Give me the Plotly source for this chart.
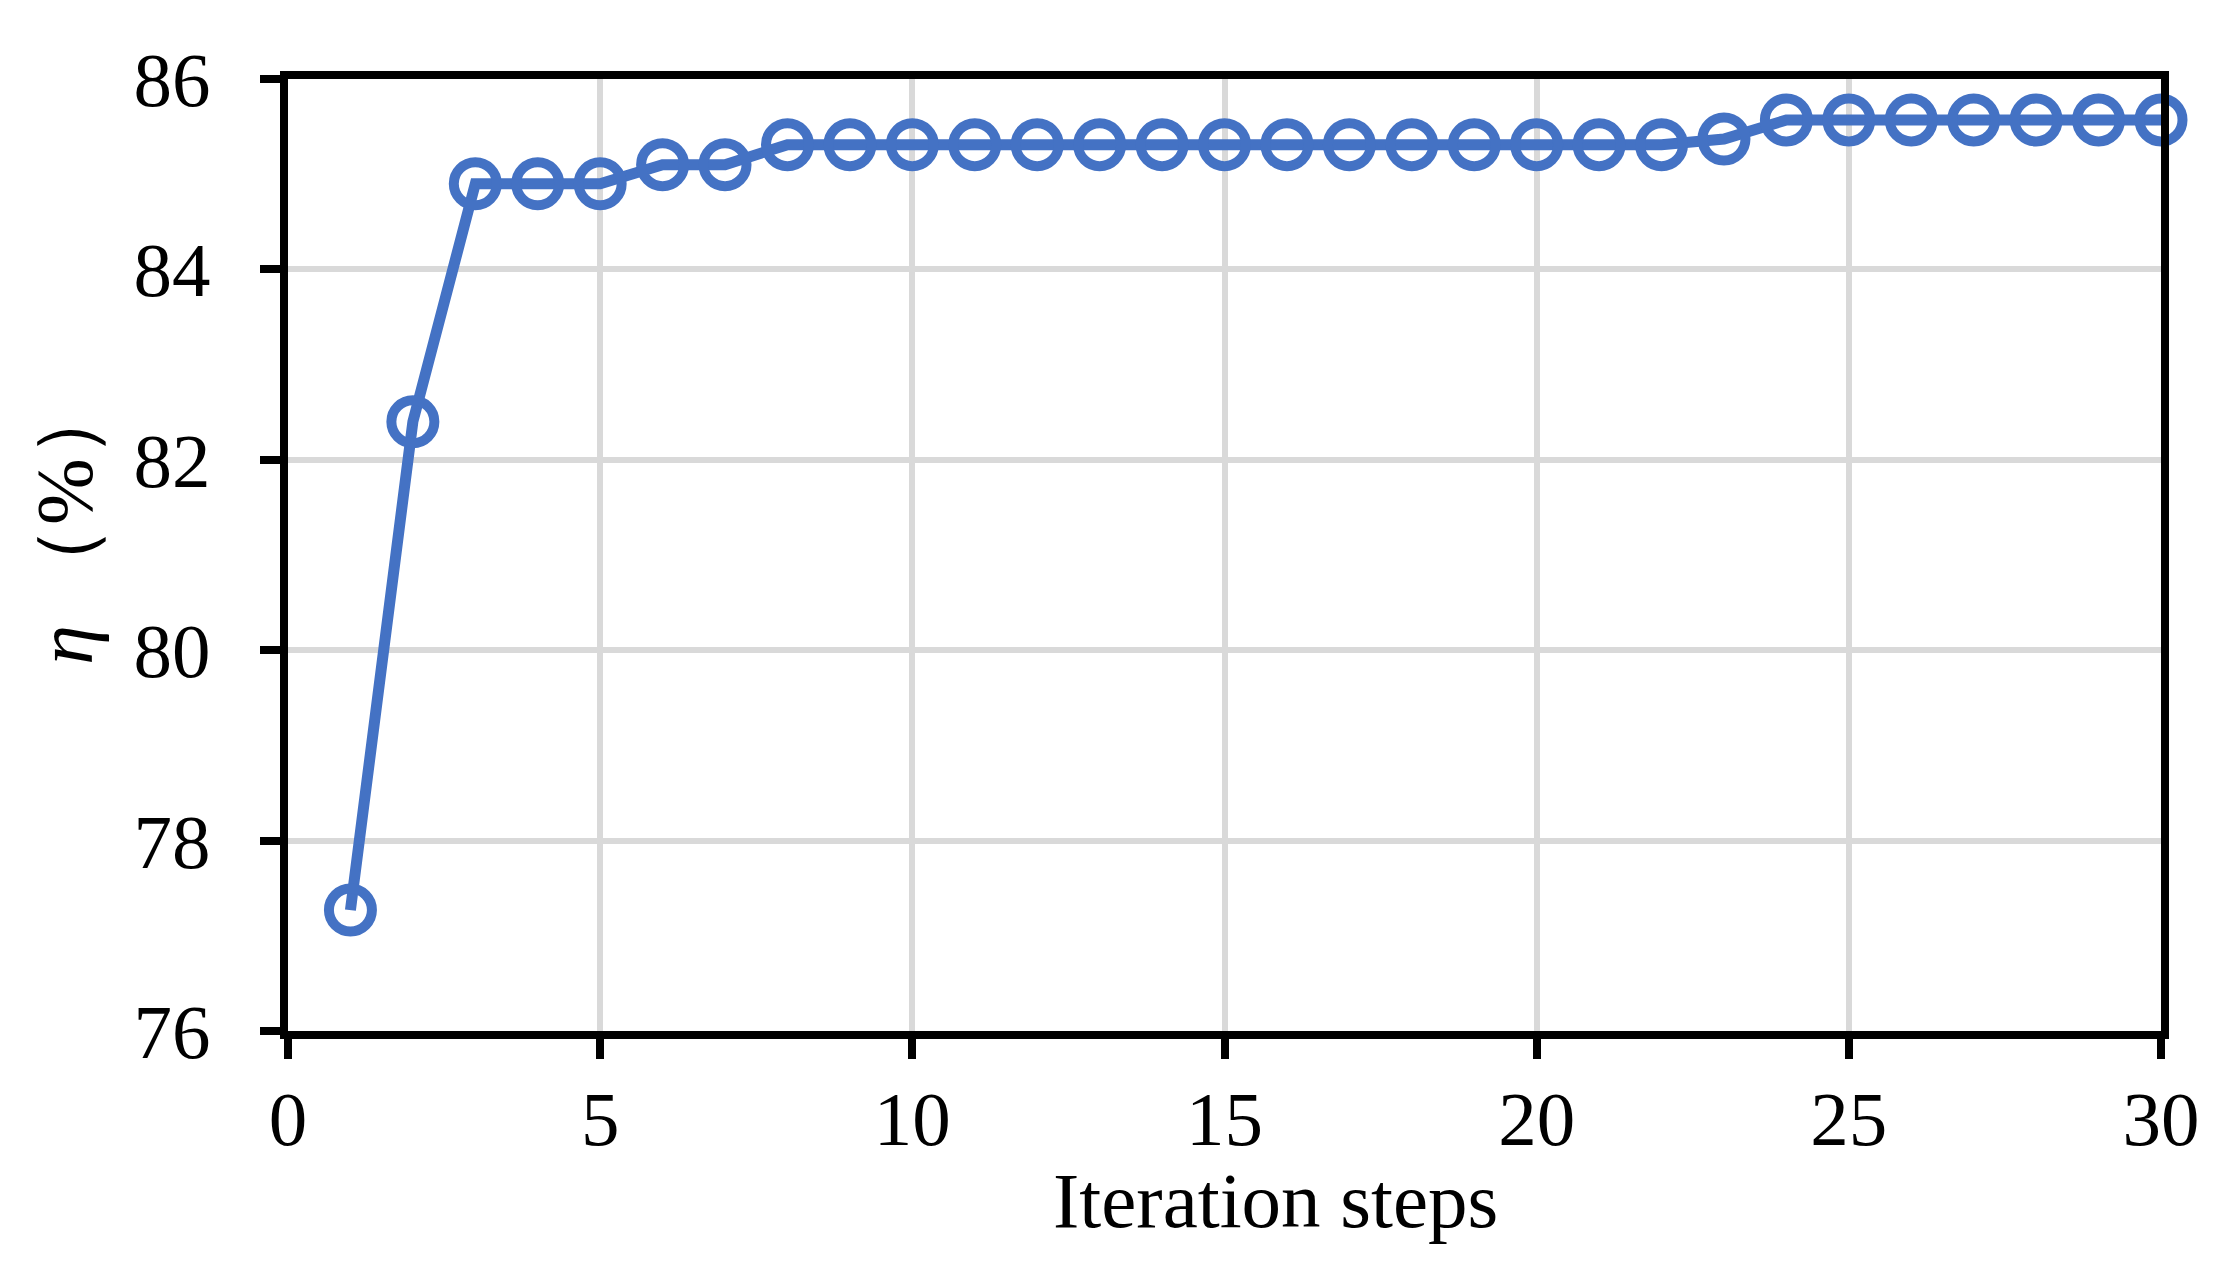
import plotly.graph_objects as go

steps = list(range(1, 31))
eta = [77.27, 82.4, 84.9, 84.9, 84.9, 85.1, 85.1,
       85.31, 85.31, 85.31, 85.31, 85.31, 85.31, 85.31, 85.31,
       85.31, 85.31, 85.31, 85.31, 85.31, 85.31, 85.31,
       85.37, 85.57, 85.57, 85.57, 85.57, 85.57, 85.57, 85.57]

x_ticks = [0, 5, 10, 15, 20, 25, 30]
y_ticks = [76, 78, 80, 82, 84, 86]

BLUE = "#4472C4"
FONT = "Liberation Serif"

fig = go.Figure()
fig.add_trace(go.Scatter(
    x=steps, y=eta, mode="lines+markers",
    line=dict(color=BLUE, width=11),
    marker=dict(symbol="circle-open", size=43, color=BLUE,
                line=dict(width=10, color=BLUE)),
    cliponaxis=False, showlegend=False,
))

axis_common = dict(
    showline=True, linecolor="black", linewidth=8, mirror=True,
    ticks="outside", ticklen=20, tickwidth=8, tickcolor="black",
    showgrid=True, gridcolor="#d9d9d9", gridwidth=6,
    zeroline=False,
    tickfont=dict(family=FONT, size=77, color="black"),
)

fig.update_xaxes(range=[0, 30], tickvals=x_ticks, ticklabelstandoff=-6, **axis_common)
fig.update_yaxes(range=[76, 86], tickvals=y_ticks, ticklabelstandoff=34, **axis_common)

fig.add_annotation(
    text="Iteration steps", xref="paper", yref="paper",
    x=0.527, y=-0.178, xanchor="center", yanchor="middle",
    showarrow=False, font=dict(family=FONT, size=79, color="black"),
)
fig.add_annotation(
    text="<i>η</i> （%）", xref="paper", yref="paper",
    x=-0.119, y=0.535, xanchor="center", yanchor="middle", textangle=-90,
    showarrow=False, font=dict(family=FONT, size=80, color="black"),
)

fig.update_layout(
    width=2232, height=1283,
    margin=dict(l=280, r=79, t=71, b=260),
    plot_bgcolor="white", paper_bgcolor="white",
)

fig.write_html("out.html")
